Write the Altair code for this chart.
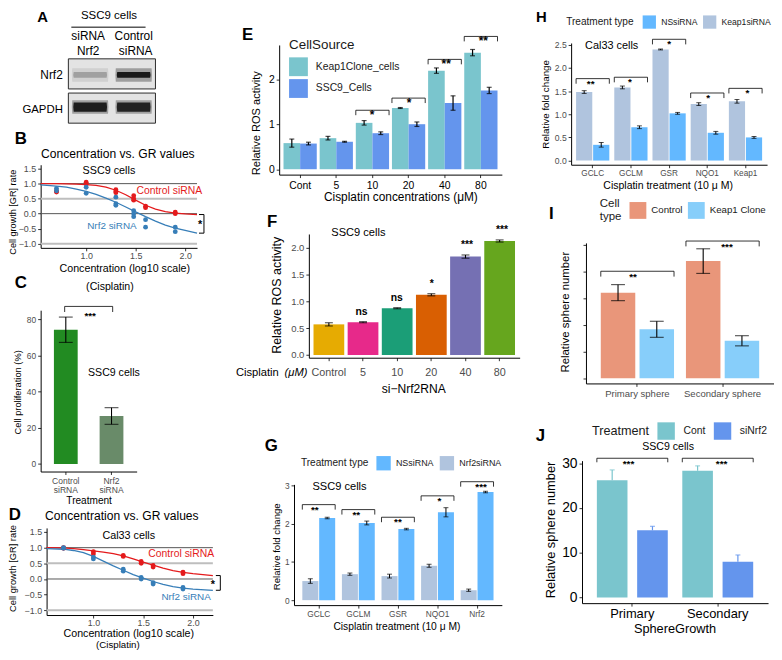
import altair as alt
import pandas as pd

FONT = "Liberation Sans"
W, H = 774, 644
M = 8
RED, BLUE = "#E41A1C", "#377EB8"

# ---------------- data ----------------
A_proteins = ["Nrf2", "GAPDH"]
A_lanes = [0, 1]
A_nrf2 = [0.25, 0.95]
A_gapdh = [0.92, 0.88]

B_pt_conc = [0.7, 0.7, 1.0, 1.0, 1.3, 1.3, 1.3, 1.48, 1.48, 1.48, 1.6, 1.6, 1.9, 1.9]
B_pt_ctrl = [0.72, 0.75, 1.05, 0.99, 0.80, 0.74, 0.70, 0.60, 0.50, 0.45, 0.25, 0.20, 0.05, 0.00]
B_pt_nrf2 = [0.84, 0.76, 0.88, 0.68, 0.55, 0.33, 0.28, 0.10, 0.00, -0.10, -0.20, -0.45, -0.45, -0.60]
B_fit_conc = [0.54, 0.7, 0.8, 0.9, 1.0, 1.1, 1.2, 1.3, 1.4, 1.5, 1.6, 1.7, 1.8, 1.9, 2.0, 2.12]
B_fit_ctrl = [1.00, 1.00, 0.995, 0.985, 0.97, 0.94, 0.88, 0.78, 0.63, 0.45, 0.28, 0.15, 0.07, 0.02, -0.01, -0.03]
B_fit_nrf2 = [0.96, 0.92, 0.88, 0.82, 0.74, 0.64, 0.52, 0.38, 0.22, 0.06, -0.10, -0.25, -0.38, -0.48, -0.56, -0.65]

C_cats = ["Control siRNA", "Nrf2 siRNA"]
C_vals = [74.2, 26.5]
C_err = [7.0, 4.6]

D_pt_conc = [0.7, 0.7, 1.0, 1.0, 1.3, 1.3, 1.48, 1.48, 1.6, 1.6, 1.9, 1.9]
D_pt_ctrl = [1.00, 0.98, 0.87, 0.80, 0.75, 0.72, 0.56, 0.50, 0.43, 0.38, 0.22, 0.17]
D_pt_nrf2 = [1.00, 0.98, 0.70, 0.64, 0.31, 0.25, 0.05, 0.00, -0.12, -0.16, -0.27, -0.32]
D_fit_conc = [0.53, 0.7, 0.8, 0.9, 1.0, 1.1, 1.2, 1.3, 1.4, 1.5, 1.6, 1.7, 1.8, 1.9, 2.0, 2.2]
D_fit_ctrl = [1.00, 0.99, 0.97, 0.94, 0.90, 0.86, 0.81, 0.74, 0.64, 0.54, 0.44, 0.35, 0.27, 0.21, 0.17, 0.11]
D_fit_nrf2 = [0.97, 0.95, 0.91, 0.84, 0.72, 0.57, 0.42, 0.28, 0.14, 0.03, -0.08, -0.17, -0.24, -0.29, -0.32, -0.36]

E_cats = ["Cont", "5", "10", "20", "40", "80"]
E_groups = ["Keap1Clone_cells", "SSC9_Cells"]
E_keap = [0.58, 0.69, 1.03, 1.36, 2.19, 2.59]
E_keap_err = [0.09, 0.04, 0.05, 0.01, 0.06, 0.07]
E_ssc9 = [0.57, 0.61, 0.80, 1.00, 1.47, 1.75]
E_ssc9_err = [0.03, 0.01, 0.03, 0.05, 0.16, 0.07]
E_sig_cats = ["10", "20", "40", "80"]
E_sig = ["*", "*", "**", "**"]
E_sig_y = [1.31, 1.58, 2.44, 2.95]

F_cats = ["Control", "5", "10", "20", "40", "80"]
F_vals = [0.57, 0.61, 0.87, 1.12, 1.83, 2.12]
F_err = [0.03, 0.01, 0.01, 0.02, 0.03, 0.02]
F_sig = ["", "ns", "ns", "*", "***", "***"]
F_colors = ["#E6AB02", "#E7298A", "#1B9E77", "#D95F02", "#7570B3", "#66A61E"]

G_cats = ["GCLC", "GCLM", "GSR", "NQO1", "Nrf2"]
G_nrf2si = [0.50, 0.68, 0.63, 0.90, 0.26]
G_nrf2si_err = [0.06, 0.03, 0.05, 0.04, 0.03]
G_nssi = [2.15, 2.02, 1.86, 2.30, 2.83]
G_nssi_err = [0.02, 0.05, 0.02, 0.12, 0.02]
G_sig = ["**", "**", "**", "*", "***"]
G_sig_y = [2.50, 2.37, 2.17, 2.73, 3.10]

H_cats = ["GCLC", "GCLM", "GSR", "NQO1", "Keap1"]
H_keapsi = [1.48, 1.58, 2.40, 1.22, 1.28]
H_keapsi_err = [0.03, 0.03, 0.01, 0.03, 0.04]
H_nssi = [0.34, 0.72, 1.02, 0.60, 0.50]
H_nssi_err = [0.05, 0.03, 0.02, 0.03, 0.02]
H_sig = ["**", "*", "*", "*", "*"]
H_sig_y = [1.77, 1.80, 2.62, 1.46, 1.56]

I_cats = ["Primary sphere", "Secondary sphere"]
I_ctrl = [32.0, 43.8]
I_ctrl_err = [3.0, 4.6]
I_keap = [18.3, 14.0]
I_keap_err = [3.0, 1.9]
I_sig = ["**", "***"]
I_sig_y = [40.0, 51.3]

J_cats = ["Primary", "Secondary"]
J_cont = [26.2, 28.3]
J_cont_err = [2.3, 1.1]
J_si = [15.0, 8.0]
J_si_err = [0.9, 1.5]
J_sig = ["***", "***"]
J_sig_y = [31.1, 31.1]

NS_BLUE, LIGHT = "#63B8FF", "#B0C4DE"
TEAL, CORN = "#7AC5CD", "#6495ED"


def X(v):
    return v - M


def Y(v):
    return v - M


ONE = pd.DataFrame({"k": [0]})


def label(text, x, y, size=11.0, color="#000000", weight="normal", align="center",
          baseline="middle", angle=0, style="normal"):
    return alt.Chart(ONE).mark_text(
        text=text, font=FONT, fontSize=size, color=color, fontWeight=weight,
        align=align, baseline=baseline, angle=angle, fontStyle=style
    ).encode(x=alt.value(X(x)), y=alt.value(Y(y)))


def axis(orient, pos, values=None, fmt=None, lsize=9.5, lcolor="#4d4d4d", tick=3, lpad=2,
         labels=True, dcolor="#000000", tcolor="#333333", expr=None, lh=None):
    off = (Y(pos) - H) if orient == "bottom" else -X(pos)
    kw = dict(orient=orient, offset=off, grid=False, title="", labels=labels,
              labelFont=FONT, labelFontSize=lsize, labelColor=lcolor, labelPadding=lpad,
              labelAngle=0, labelOverlap=False, labelFlush=False, labelBound=False,
              domainColor=dcolor, domainWidth=1, tickColor=tcolor, tickSize=tick, tickWidth=1)
    if values is not None:
        kw["values"] = values
    if fmt is not None:
        kw["format"] = fmt
    if expr is not None:
        kw["labelExpr"] = expr
    if lh is not None:
        kw["labelLineHeight"] = lh
    return alt.Axis(**kw)


def hlegend(title, x, y, tsize, lsize, sym, tpad, loff, cpad, tlh=None):
    kw = dict(orient="none", legendX=X(x), legendY=Y(y), direction="horizontal", title=title,
              titleOrient="left", titleFont=FONT, titleFontSize=tsize, titleFontWeight="normal",
              titleColor="#1a1a1a", titlePadding=tpad, titleAnchor="middle", titleBaseline="middle",
              labelFont=FONT, labelFontSize=lsize, labelColor="#1a1a1a", labelOffset=loff,
              columnPadding=cpad, symbolType="square", symbolSize=sym, symbolStrokeWidth=0,
              symbolOpacity=1, padding=0, labelLimit=0)
    if tlh is not None:
        kw["titleLineHeight"] = tlh
    return alt.Legend(**kw)


# ---------------- panel A (blot) ----------------
def panel_a():
    xs = alt.Scale(domain=[-0.5, 1.5], range=[X(69), X(157)], nice=False, zero=False)
    ys = alt.Scale(domain=A_proteins, range=[Y(56), Y(121)], paddingInner=0.12, paddingOuter=0)
    frame = alt.Chart(pd.DataFrame({"protein": A_proteins})).mark_rect(
        fill="#e3e3e3", stroke="#2b2b2b", strokeWidth=1).encode(
        x=alt.XDatum(-0.5, type="quantitative", scale=xs, axis=None),
        x2=alt.X2Datum(1.5),
        y=alt.Y("protein:N", scale=ys, axis=None))
    bands = pd.DataFrame({"lane": A_lanes + A_lanes,
                          "protein": ["Nrf2", "Nrf2", "GAPDH", "GAPDH"],
                          "inten": A_nrf2 + A_gapdh})
    bands["halo"] = bands["inten"] * 0.35
    thin = "M-0.95,-0.17 Q-1,0 -0.95,0.17 L0.95,0.17 Q1,0 0.95,-0.17 Z"
    thick = "M-0.95,-0.27 Q-1,0 -0.95,0.27 L0.95,0.27 Q1,0 0.95,-0.27 Z"
    halo = "M-0.95,-0.36 Q-1,0 -0.95,0.36 L0.95,0.36 Q1,0 0.95,-0.36 Z"
    layers = [frame]
    for prot, shp in (("Nrf2", thin), ("GAPDH", thick)):
        base = alt.Chart(bands).transform_filter(f"datum.protein == '{prot}'")
        layers.append(base.mark_point(shape=halo, filled=True, size=1444, color="#111111", strokeWidth=0).encode(
            x=alt.X("lane:Q", scale=xs, axis=None), y=alt.Y("protein:N", scale=ys, axis=None),
            opacity=alt.Opacity("halo:Q", scale=None)))
        layers.append(base.mark_point(shape=shp, filled=True, size=1225, color="#111111", strokeWidth=0).encode(
            x=alt.X("lane:Q", scale=xs, axis=None), y=alt.Y("protein:N", scale=ys, axis=None),
            opacity=alt.Opacity("inten:Q", scale=None)))
    underline = alt.Chart(ONE).mark_rule(color="#000000", strokeWidth=1).encode(
        x=alt.value(X(72)), x2=alt.value(X(147)), y=alt.value(Y(24)))
    layers += [underline,
               label("A", 43, 19, 15, weight="bold", baseline="alphabetic"),
               label("SSC9 cells", 110, 13, 11.6),
               label("siRNA", 89, 33, 12), label("Nrf2", 89, 48, 12),
               label("Control", 135, 33, 12), label("siRNA", 137, 48, 12),
               label("Nrf2", 52, 72, 12), label("GAPDH", 43, 108, 11.5)]
    return layers


# ---------------- GR panels (B, D) ----------------
def gr_panel(fit_x, fit_c, fit_n, pt_x, pt_c, pt_n, xdom, xr, ydom, yr, br_x, br_top, br_bot, stub,
             lsize=9.5):
    xs = alt.Scale(domain=xdom, range=[X(xr[0]), X(xr[1])], nice=False, zero=False)
    ys = alt.Scale(domain=ydom, range=[Y(yr[0]), Y(yr[1])], nice=False, zero=False)
    cs = alt.Scale(domain=["Control siRNA", "Nrf2 siRNA"], range=[RED, BLUE])
    xax = axis("bottom", yr[0], values=[1.0, 1.5, 2.0], fmt=".1f", lpad=1, lsize=lsize)
    yax = axis("left", xr[0], values=[-1.0, -0.5, 0.0, 0.5, 1.0, 1.5], fmt=".1f", lsize=lsize)
    refs = pd.DataFrame({"gr": [1.0, 0.5, 0.0, -1.0], "kind": ["d", "l", "d", "l"]})
    fit = pd.DataFrame({"conc": fit_x + fit_x, "gr": fit_c + fit_n,
                        "grp": ["Control siRNA"] * len(fit_x) + ["Nrf2 siRNA"] * len(fit_x)})
    pts = pd.DataFrame({"conc": pt_x + pt_x, "gr": pt_c + pt_n,
                        "grp": ["Control siRNA"] * len(pt_x) + ["Nrf2 siRNA"] * len(pt_x)})
    br = pd.DataFrame({"conc": [br_x - stub, br_x, br_x, br_x - stub],
                       "gr": [br_top, br_top, br_bot, br_bot], "k": [0, 1, 2, 3]})
    rl = alt.Chart(refs).transform_filter("datum.kind == 'l'").mark_rule(color="#bebebe", strokeWidth=2).encode(
        x=alt.XDatum(xdom[0], type="quantitative", scale=xs, axis=None), x2=alt.X2Datum(xdom[1]),
        y=alt.Y("gr:Q", scale=ys, axis=None))
    rd = alt.Chart(refs).transform_filter("datum.kind == 'd'").mark_rule(color="#555555", strokeWidth=1).encode(
        x=alt.XDatum(xdom[0], type="quantitative", scale=xs, axis=None), x2=alt.X2Datum(xdom[1]),
        y=alt.Y("gr:Q", scale=ys, axis=None))
    lines = alt.Chart(fit).mark_line(strokeWidth=1.3).encode(
        x=alt.X("conc:Q", scale=xs, axis=xax), y=alt.Y("gr:Q", scale=ys, axis=yax),
        color=alt.Color("grp:N", scale=cs, legend=None))
    dots = alt.Chart(pts).mark_circle(size=24, opacity=1).encode(
        x=alt.X("conc:Q", scale=xs, axis=None), y=alt.Y("gr:Q", scale=ys, axis=None),
        color=alt.Color("grp:N", scale=cs, legend=None))
    brk = alt.Chart(br).mark_line(color="#000000", strokeWidth=1).encode(
        x=alt.X("conc:Q", scale=xs, axis=None), y=alt.Y("gr:Q", scale=ys, axis=None), order="k:Q")
    return [rl, rd, lines, dots, brk]


def panel_b():
    layers = gr_panel(B_fit_conc, B_fit_ctrl, B_fit_nrf2, B_pt_conc, B_pt_ctrl, B_pt_nrf2,
                      [0.54, 2.12], [41, 199], [-1.14, 1.63], [247, 163], 2.19, -0.03, -0.65, 0.05,
                      lsize=9.0)
    layers += [label("B", 21, 137, 17, weight="bold"),
               label("Concentration vs. GR values", 119, 152, 12.2),
               label("SSC9 cells", 110, 169, 10.9),
               label("Control siRNA", 171, 190, 10.5, color=RED),
               label("Nrf2 siRNA", 113, 225, 10, color=BLUE),
               label("*", 202, 224, 11, weight="bold"),
               label("Concentration (log10 scale)", 126, 268.5, 10.8),
               label("(Cisplatin)", 111, 287, 10.7),
               label("Cell growth [GR] rate", 13, 211, 9.2, angle=270)]
    return layers


def panel_d():
    layers = gr_panel(D_fit_conc, D_fit_ctrl, D_fit_nrf2, D_pt_conc, D_pt_ctrl, D_pt_nrf2,
                      [0.53, 2.2], [47, 215], [-1.15, 1.63], [618, 530], 2.275, 0.11, -0.36, 0.045,
                      lsize=9.0)
    layers += [label("D", 15, 517, 17, weight="bold"),
               label("Concentration vs. GR values", 123, 518, 12.2),
               label("Cal33 cells", 130, 538, 10.9),
               label("Control siRNA", 183, 556, 10.5, color=RED),
               label("Nrf2 siRNA", 188, 600, 10, color=BLUE),
               label("*", 215, 588, 11, weight="bold"),
               label("Concentration (log10 scale)", 130, 637.5, 10.8),
               label("(Cisplatin)", 119, 648, 9.8),
               label("Cell growth [GR] rate", 13, 571, 9.4, angle=270)]
    return layers


# ---------------- panel C ----------------
def panel_c():
    xs = alt.Scale(domain=C_cats, range=[X(41), X(138)], paddingInner=0.48, paddingOuter=0.29)
    ys = alt.Scale(domain=[-4.2, 85], range=[Y(473), Y(310)], nice=False, zero=False)
    cs = alt.Scale(domain=C_cats, range=["#228B22", "#698B69"])
    df = pd.DataFrame({"cat": C_cats, "val": C_vals,
                       "lo": [v - e for v, e in zip(C_vals, C_err)],
                       "hi": [v + e for v, e in zip(C_vals, C_err)]})
    xax = axis("bottom", 473, lsize=8.6, expr="split(datum.label, ' ')", lh=9)
    yax = axis("left", 41, values=[0, 20, 40, 60, 80], lsize=8.5)
    bars = alt.Chart(df).mark_bar().encode(
        x=alt.X("cat:N", scale=xs, axis=xax), y=alt.Y("val:Q", scale=ys, axis=yax),
        color=alt.Color("cat:N", scale=cs, legend=None))
    rule = alt.Chart(df).mark_rule(color="#000000", strokeWidth=1.1).encode(
        x=alt.X("cat:N", scale=xs, axis=None), y=alt.Y("lo:Q", scale=ys, axis=None), y2="hi:Q")
    caps = alt.Chart(df).transform_fold(["lo", "hi"], as_=["end", "ev"]).mark_tick(
        color="#000000", thickness=1.1, size=14, orient="horizontal").encode(
        x=alt.X("cat:N", scale=xs, axis=None), y=alt.Y("ev:Q", scale=ys, axis=None))
    br = pd.DataFrame({"cat": [C_cats[0], C_cats[0], C_cats[1], C_cats[1]],
                       "y": [84.0, 87.1, 87.1, 84.0], "k": [0, 1, 2, 3]})
    brk = alt.Chart(br).mark_line(color="#000000", strokeWidth=0.8).encode(
        x=alt.X("cat:N", scale=xs, axis=None), y=alt.Y("y:Q", scale=ys, axis=None), order="k:Q")
    return [bars, rule, caps, brk,
            label("C", 21, 283, 17, weight="bold"),
            label("***", 91, 316, 10, weight="bold"),
            label("SSC9 cells", 115, 373, 10.7),
            label("Treatment", 90, 503, 10.2),
            label("Cell proliferation (%)", 18, 393, 9.4, angle=270)]


# ---------------- grouped bar helper ----------------
def grouped(cats, groups, vals, errs, xr, pi, po, opi, yr, ydom, cdom, crange, xax, yax, legend,
            cap=5, capw=1.0, errw=1.0, sig_cats=None, sig_txt=None, sig_y=None, stub=0.1,
            star_size=10, star_dy=0, err_colored=False, one_sided=False, brw=0.8):
    xs = alt.Scale(domain=cats, range=[X(xr[0]), X(xr[1])], paddingInner=pi, paddingOuter=po)
    xos = alt.Scale(domain=groups, paddingInner=opi, paddingOuter=0)
    ys = alt.Scale(domain=ydom, range=[Y(yr[0]), Y(yr[1])], nice=False, zero=False)
    cs = alt.Scale(domain=cdom, range=crange)
    rows = []
    for g, vs, es in zip(groups, vals, errs):
        for c, v, e in zip(cats, vs, es):
            rows.append(dict(cat=c, grp=g, val=v, lo=(v if one_sided else v - e), hi=v + e))
    df = pd.DataFrame(rows)

    def ecol():
        return {"color": alt.Color("grp:N", scale=cs, legend=None)} if err_colored else {}

    bars = alt.Chart(df).mark_bar().encode(
        x=alt.X("cat:N", scale=xs, axis=xax), xOffset=alt.XOffset("grp:N", scale=xos),
        y=alt.Y("val:Q", scale=ys, axis=yax), color=alt.Color("grp:N", scale=cs, legend=legend))
    rule = alt.Chart(df).mark_rule(color="#000000", strokeWidth=errw).encode(
        x=alt.X("cat:N", scale=xs, axis=None), xOffset=alt.XOffset("grp:N", scale=xos),
        y=alt.Y("lo:Q", scale=ys, axis=None), y2="hi:Q", **ecol())
    ends = ["hi"] if one_sided else ["lo", "hi"]
    caps = alt.Chart(df).transform_fold(ends, as_=["end", "ev"]).mark_tick(
        color="#000000", thickness=capw, size=cap, orient="horizontal").encode(
        x=alt.X("cat:N", scale=xs, axis=None), xOffset=alt.XOffset("grp:N", scale=xos),
        y=alt.Y("ev:Q", scale=ys, axis=None), **ecol())
    layers = [bars, rule, caps]
    if sig_cats:
        brows, srows = [], []
        for c, t, h in zip(sig_cats, sig_txt, sig_y):
            brows += [dict(cat=c, grp=groups[0], y=h - stub, k=0, bid=c),
                      dict(cat=c, grp=groups[0], y=h, k=1, bid=c),
                      dict(cat=c, grp=groups[1], y=h, k=2, bid=c),
                      dict(cat=c, grp=groups[1], y=h - stub, k=3, bid=c)]
            srows.append(dict(cat=c, y=h, t=t))
        brk = alt.Chart(pd.DataFrame(brows)).mark_line(color="#000000", strokeWidth=brw).encode(
            x=alt.X("cat:N", scale=xs, axis=None), xOffset=alt.XOffset("grp:N", scale=xos),
            y=alt.Y("y:Q", scale=ys, axis=None), detail="bid:N", order="k:Q")
        st = alt.Chart(pd.DataFrame(srows)).mark_text(
            font=FONT, fontSize=star_size, fontWeight="bold", baseline="top", dy=star_dy, color="#000000").encode(
            x=alt.X("cat:N", scale=xs, axis=None), y=alt.Y("y:Q", scale=ys, axis=None), text="t:N")
        layers += [brk, st]
    return layers


# ---------------- panel E ----------------
def panel_e():
    leg = alt.Legend(orient="none", legendX=X(292), legendY=Y(35), direction="vertical", title="CellSource",
                     titleFont=FONT, titleFontSize=13.5, titleFontWeight="normal", titleColor="#1a1a1a",
                     titlePadding=6, labelFont=FONT, labelFontSize=10.5, labelColor="#1a1a1a",
                     labelOffset=8, rowPadding=3, symbolType="square", symbolSize=361,
                     symbolStrokeWidth=0, symbolOpacity=1, padding=0, labelLimit=0)
    xax = axis("bottom", 173, lsize=10.5, lcolor="#000000", lpad=3)
    yax = axis("left", 282, values=[0, 1, 2], lsize=10.5, lcolor="#000000")
    layers = grouped(E_cats, E_groups, [E_keap, E_ssc9], [E_keap_err, E_ssc9_err],
                     [282, 507], 0.08, 0.12, 0.0, [173, 42], [-0.12, 2.76], E_groups, [TEAL, CORN],
                     xax, yax, leg, cap=5, capw=1.2, errw=1.2, sig_cats=E_sig_cats, sig_txt=E_sig,
                     sig_y=E_sig_y, stub=0.11, star_size=12, star_dy=0)
    layers += [label("E", 250, 32, 17, weight="bold"),
               label("Cisplatin concentrations (μM)", 405, 196, 12),
               label("Relative ROS activity", 260, 121, 11.2, angle=270)]
    return layers


# ---------------- panel F ----------------
def panel_f():
    xs = alt.Scale(domain=F_cats, range=[X(312), X(525)], paddingInner=0.1, paddingOuter=0.136)
    ys = alt.Scale(domain=[-0.05, 2.25], range=[Y(358), Y(233)], nice=False, zero=False)
    cs = alt.Scale(domain=F_cats, range=F_colors)
    df = pd.DataFrame({"cat": F_cats, "val": F_vals, "sig": F_sig,
                       "lo": [v - e for v, e in zip(F_vals, F_err)],
                       "hi": [v + e for v, e in zip(F_vals, F_err)]})
    xax = axis("bottom", 358, lsize=10.9, lpad=6)
    yax = axis("left", 312, values=[0.0, 0.5, 1.0, 1.5, 2.0], fmt=".1f", lsize=9.6)
    bars = alt.Chart(df).mark_bar().encode(
        x=alt.X("cat:N", scale=xs, axis=xax), y=alt.Y("val:Q", scale=ys, axis=yax),
        color=alt.Color("cat:N", scale=cs, legend=None))
    rule = alt.Chart(df).mark_rule(color="#000000", strokeWidth=1.1).encode(
        x=alt.X("cat:N", scale=xs, axis=None), y=alt.Y("lo:Q", scale=ys, axis=None), y2="hi:Q")
    caps = alt.Chart(df).transform_fold(["lo", "hi"], as_=["end", "ev"]).mark_tick(
        color="#000000", thickness=1.1, size=8, orient="horizontal").encode(
        x=alt.X("cat:N", scale=xs, axis=None), y=alt.Y("ev:Q", scale=ys, axis=None))
    sig = alt.Chart(df).mark_text(font=FONT, fontSize=10.5, fontWeight="bold", baseline="bottom", dy=-5).encode(
        x=alt.X("cat:N", scale=xs, axis=None), y=alt.Y("hi:Q", scale=ys, axis=None), text="sig:N")
    return [bars, rule, caps, sig,
            label("F", 275, 221, 17, weight="bold"),
            label("SSC9 cells", 362, 232, 11.2),
            label("Cisplatin", 260, 373, 11.3),
            label("(μM)", 299, 373, 11.3, style="italic"),
            label("si−Nrf2RNA", 418, 390, 12.2),
            label("Relative ROS activity", 280, 295, 12.6, angle=270)]


# ---------------- panel G ----------------
def panel_g():
    leg = hlegend("Treatment type", 304, 457, 10.2, 9.0, 210, 7, 5, 5)
    xax = axis("bottom", 608, lsize=8.4)
    yax = axis("left", 297, values=[0, 1, 2, 3], lsize=8.4)
    layers = grouped(G_cats, ["Nrf2siRNA", "NSsiRNA"], [G_nrf2si, G_nssi], [G_nrf2si_err, G_nssi_err],
                     [297, 507], 0.17, 0.21, 0.05, [608, 486], [-0.13, 3.03], ["NSsiRNA", "Nrf2siRNA"],
                     [NS_BLUE, LIGHT], xax, yax, leg, cap=5, capw=1, errw=1, sig_cats=G_cats,
                     sig_txt=G_sig, sig_y=G_sig_y, stub=0.13, star_size=10, star_dy=0)
    layers += [label("G", 274, 447, 17, weight="bold"),
               label("SSC9 cells", 343, 489, 11.2),
               label("Cisplatin treatment (10 μ M)", 401, 630, 10.4),
               label("Relative fold change", 280, 549, 9.7, angle=270)]
    return layers


# ---------------- panel H ----------------
def panel_h():
    leg = hlegend("Treatment type", 572, 11.7, 10.2, 8.7, 180, 8, 5, 5)
    xax = axis("bottom", 163, lsize=8.3, lpad=1)
    yax = axis("left", 577, values=[0.0, 0.5, 1.0, 1.5, 2.0, 2.5], fmt=".1f", lsize=8.7)
    layers = grouped(H_cats, ["Keap1siRNA", "NSsiRNA"], [H_keapsi, H_nssi], [H_keapsi_err, H_nssi_err],
                     [577, 775], 0.13, 0.13, 0.05, [163, 40], [-0.09, 2.54], ["NSsiRNA", "Keap1siRNA"],
                     [NS_BLUE, LIGHT], xax, yax, leg, cap=5, capw=1, errw=1, sig_cats=H_cats,
                     sig_txt=H_sig, sig_y=H_sig_y, stub=0.11, star_size=10, star_dy=0)
    layers += [label("H", 547, 19, 15, weight="bold", baseline="alphabetic"),
               label("Cal33 cells", 618, 43, 11),
               label("Cisplatin treatment (10 μ M)", 675, 185, 10.6),
               label("Relative fold change", 552, 102, 9.9, angle=270)]
    return layers


# ---------------- panel I ----------------
def panel_i():
    leg = hlegend(["Cell", "type"], 606, 200.7, 11.6, 9.8, 289, 8, 5, 5, tlh=13)
    xax = axis("bottom", 384, lsize=9.6)
    yax = axis("left", 592, values=[0, 10, 20, 30, 40, 50], labels=False)
    layers = grouped(I_cats, ["Control", "Keap1 Clone"], [I_ctrl, I_keap], [I_ctrl_err, I_keap_err],
                     [592, 782], 0.14, 0.174, 0.11, [384, 242], [-1.95, 50.6], ["Control", "Keap1 Clone"],
                     ["#E9967A", "#87CEFA"], xax, yax, leg, cap=14, capw=1.1, errw=1.1, sig_cats=I_cats,
                     sig_txt=I_sig, sig_y=I_sig_y, stub=2.0, star_size=10, star_dy=1)
    layers += [label("I", 557, 213, 17, weight="bold"),
               label("Relative sphere number", 572, 312, 11.5, angle=270)]
    return layers


# ---------------- panel J ----------------
def panel_j():
    leg = hlegend("Treatment", 598, 423, 12.8, 10.5, 310, 8, 8.5, 8)
    xax = axis("bottom", 606, lsize=13, lcolor="#000000")
    yax = axis("left", 588, values=[0, 10, 20, 30], lsize=14, lcolor="#000000")
    layers = grouped(J_cats, ["Cont", "siNrf2"], [J_cont, J_si], [J_cont_err, J_si_err],
                     [588, 776], 0.17, 0.174, 0.24, [606, 462], [-1.26, 30.57], ["Cont", "siNrf2"],
                     [TEAL, CORN], xax, yax, leg, cap=5, capw=1.2, errw=1.2, sig_cats=J_cats,
                     sig_txt=J_sig, sig_y=J_sig_y, stub=0.9, star_size=10, star_dy=1,
                     err_colored=True, one_sided=True)
    layers += [label("J", 546, 437, 17, weight="bold"),
               label("SSC9 cells", 675, 448, 10.7),
               label("SphereGrowth", 682, 632, 12.9),
               label("Relative sphere number", 557, 532, 13, angle=270)]
    return layers


all_layers = (panel_a() + panel_b() + panel_c() + panel_d() + panel_e() + panel_f()
              + panel_g() + panel_h() + panel_i() + panel_j())

chart = alt.layer(*all_layers).resolve_scale(
    x="independent", y="independent", color="independent", xOffset="independent"
).properties(
    width=W, height=H, padding=0, autosize=alt.AutoSizeParams(type="none")
).configure_view(strokeWidth=0).configure_text(font=FONT)

chart.save("out.html", embed_options={"renderer": "svg", "actions": False})
